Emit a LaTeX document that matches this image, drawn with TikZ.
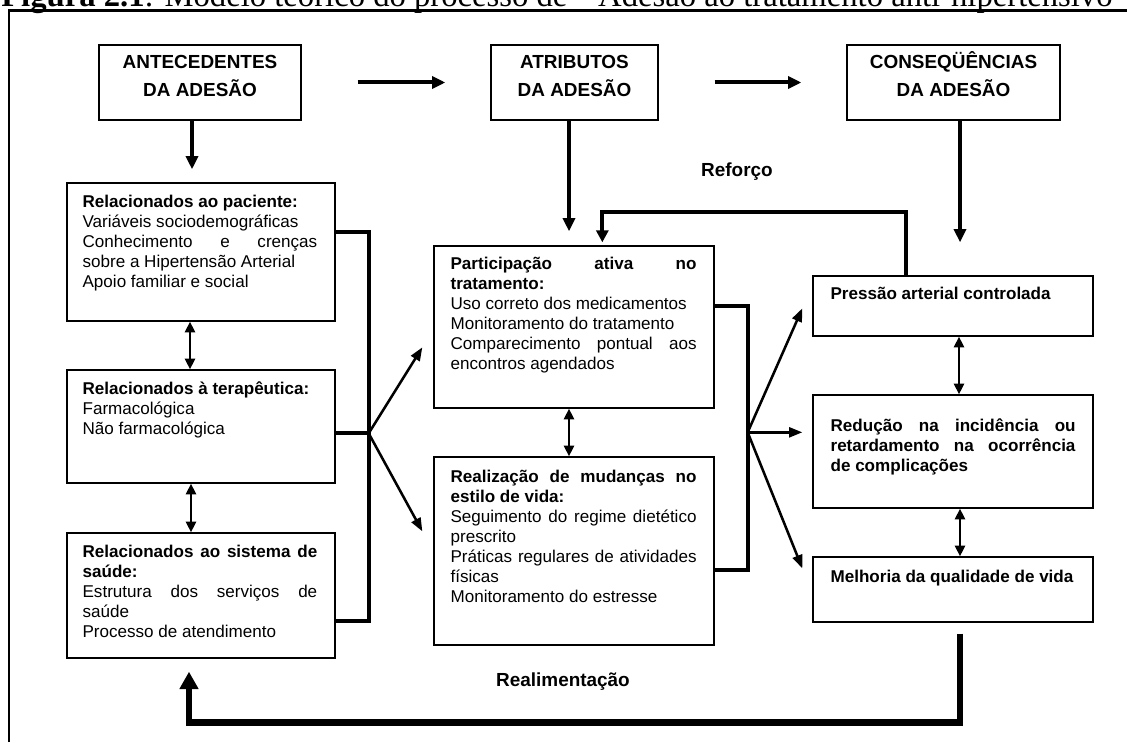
\documentclass[tikz,border=0pt]{standalone}
\usepackage{fontspec}
\setmainfont{Liberation Sans}
\newfontfamily\titlefont{Liberation Serif}
\usetikzlibrary{arrows.meta,calc,fit}
\newcommand\jline[1]{\makebox[\linewidth][s]{#1}\par}
\begin{document}
\begin{tikzpicture}[x=0.75pt,y=-0.75pt,
  box/.style={draw, line width=1pt, inner sep=0pt},
  hdr/.style={box, align=center, font=\bfseries\fontsize{14.2}{21}\selectfont},
  txt/.style={anchor=base west, inner sep=0pt, font=\fontsize{12.8}{15}\selectfont},
  lbl/.style={inner sep=0pt, font=\bfseries\fontsize{14.2}{16}\selectfont},
  bigarrow/.style={line width=3pt, -{Triangle[length=10pt,width=9pt]}},
  dblarrow/.style={line width=1.9pt, {Triangle[length=8pt,width=7.5pt]}-{Triangle[length=8pt,width=7.5pt]}},
  fanarrow/.style={line width=1.9pt, -{Triangle[length=10pt,width=7.5pt]}},
  conn/.style={line width=3pt},
  feedback/.style={line width=4.8pt, -{Triangle[length=13pt,width=13.5pt]}},
  reforco/.style={line width=3.2pt, -{Triangle[length=9pt,width=9pt]}}
]
\useasboundingbox (0,0) rectangle (1127,742);

% title (clipped at top, as in the reference) and frame
\node[anchor=base west, inner sep=0pt, font=\titlefont\fontsize{24.5}{24.5}\selectfont] (title) at (1,7)
  {\textbf{Figura 2.1}: Modelo teórico do processo de \ “Adesão ao tratamento anti-hipertensivo”};
\draw[line width=1.8pt] (9,742) -- (9,10.5) -- (1127,10.5);

% header boxes
\node[hdr, fit={(99,45) (301,120)}] (a) {ANTECEDENTES\\DA ADESÃO};
\node[hdr, fit={(491,45) (658,120)}] (b) {ATRIBUTOS\\DA ADESÃO};
\node[hdr, fit={(847,45) (1060,120)}] (c) {CONSEQÜÊNCIAS\\DA ADESÃO};

% left column
\node[box, fit={(67,183) (335,321)}] (p1) {};
\node[box, fit={(67,370) (335,483)}] (p2) {};
\node[box, fit={(67,533) (335,658)}] (p3) {};
% middle column
\node[box, fit={(434,246) (714,408)}] (m1) {};
\node[box, fit={(434,457) (714,645)}] (m2) {};
% right column
\node[box, fit={(813,276) (1093,336)}] (r1) {};
\node[box, fit={(813,395) (1093,508)}] (r2) {};
\node[box, fit={(813,557) (1093,622)}] (r3) {};

% texts
\node[txt] (tp1) at ($(p1.north west)+(16,25)$) {\parbox[t]{176pt}{%
  \textbf{Relacionados ao paciente:}\par
  Variáveis sociodemográficas\par
  \jline{Conhecimento e crenças}
  sobre a Hipertensão Arterial\par
  Apoio familiar e social}};
\node[txt] (tp2) at ($(p2.north west)+(16,25)$) {\parbox[t]{176pt}{%
  \textbf{Relacionados à terapêutica:}\par
  Farmacológica\par
  Não farmacológica}};
\node[txt] (tp3) at ($(p3.north west)+(16,25)$) {\parbox[t]{176pt}{%
  \jline{\textbf{Relacionados ao sistema de}}
  \textbf{saúde:}\par
  \jline{Estrutura dos serviços de}
  saúde\par
  Processo de atendimento}};
\node[txt] (tm1) at ($(m1.north west)+(17,24)$) {\parbox[t]{184.5pt}{%
  \jline{\textbf{Participação ativa no}}
  \textbf{tratamento:}\par
  Uso correto dos medicamentos\par
  Monitoramento do tratamento\par
  \jline{Comparecimento pontual aos}
  encontros agendados}};
\node[txt] (tm2) at ($(m2.north west)+(17,26)$) {\parbox[t]{184.5pt}{%
  \jline{\textbf{Realização de mudanças no}}
  \textbf{estilo de vida:}\par
  \jline{Seguimento do regime dietético}
  prescrito\par
  \jline{Práticas regulares de atividades}
  físicas\par
  Monitoramento do estresse}};
\node[txt] (tr1) at ($(r1.north west)+(18,24)$) {\textbf{Pressão arterial controlada}};
\node[txt] (tr2) at ($(r2.north west)+(18,37)$) {\parbox[t]{183.75pt}{%
  \jline{\textbf{Redução na incidência ou}}
  \jline{\textbf{retardamento na ocorrência}}
  \textbf{de complicações}}};
\node[txt] (tr3) at ($(r3.north west)+(18,26)$) {\textbf{Melhoria da qualidade de vida}};

% labels
\node[lbl] (lref) at (737,172) {Reforço};
\node[lbl] (lreal) at (563,682) {Realimentação};

% top arrows
\draw[bigarrow] ($(a.east)+(56,0)$) -- ($(b.west)+(-45,0)$);
\draw[bigarrow] ($(b.east)+(56,0)$) -- ($(c.west)+(-45,0)$);
\draw[bigarrow] ($(a.south)+(-8,0)$) -- ($(p1.north)+(-9,-13)$);
\draw[bigarrow] ($(b.south)+(-5.5,0)$) -- ($(m1.north)+(-5,-14)$);
\draw[bigarrow] ($(c.south)+(6.5,0)$) -- ($(r1.north)+(7,-33)$);

% double arrows
\draw[dblarrow] ($(p1.south)+(-11,0)$) -- ($(p2.north)+(-11,0)$);
\draw[dblarrow] ($(p2.south)+(-10,0)$) -- ($(p3.north)+(-10,0)$);
\draw[dblarrow] ($(m1.south)+(-5,0)$) -- ($(m2.north)+(-5,0)$);
\draw[dblarrow] ($(r1.south)+(6,0)$) -- ($(r2.north)+(6,0)$);
\draw[dblarrow] ($(r2.south)+(7,0)$) -- ($(r3.north)+(7,0)$);

% left connector and fan
\coordinate (lj) at ($(p2.north east)+(33,64)$);
\draw[conn] ($(p1.north east)+(0,50)$) -| ($(p3.north east)+(33,89)$) -- ($(p3.north east)+(0,89)$);
\draw[conn] ($(p2.north east)+(0,64)$) -- (lj);
\draw[fanarrow] (lj) -- ($(m1.north west)+(-11,102)$);
\draw[fanarrow] (lj) -- ($(m2.north west)+(-11,75)$);

% right connector and fan
\coordinate (rj) at ($(m1.north east)+(33,187)$);
\draw[conn] ($(m1.north east)+(0,61)$) -| ($(m2.north east)+(33,114)$) -- ($(m2.north east)+(0,114)$);
\draw[fanarrow] (rj) -- ($(r1.north west)+(-10,33)$);
\draw[fanarrow] (rj) -- ($(r2.north west)+(-10,38)$);
\draw[fanarrow] (rj) -- ($(r3.north west)+(-10,12)$);

% reforco loop
\draw[reforco] ($(r1.north west)+(94,0)$) -- ++(0,-63) -| ($(m1.north west)+(169,-3)$);

% realimentacao loop
\coordinate (fbstart) at ($(r3.south)+(7,11)$);
\coordinate (fbend) at ($(p3.south)+(-12,13)$);
\draw[feedback] (fbstart) -- ++(0,89) -| (fbend);
\end{tikzpicture}
\end{document}
